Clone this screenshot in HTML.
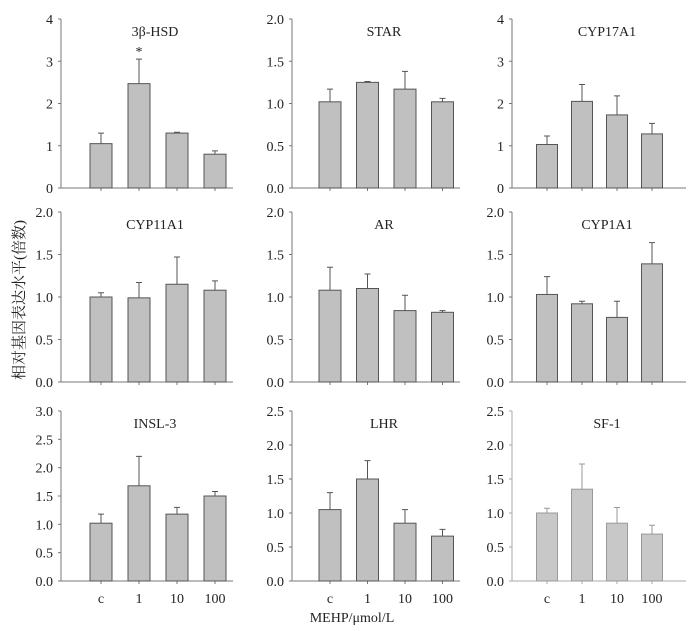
<!DOCTYPE html>
<html><head><meta charset="utf-8"><style>
body{margin:0;background:#fff}
svg{display:block;font-family:"Liberation Serif","Noto Serif CJK SC",serif}
svg text{font-family:"Liberation Serif","Noto Serif CJK SC",serif}
</style></head><body>
<svg id="c" width="700" height="631" viewBox="0 0 700 631">
<text x="24" y="300" transform="rotate(-90 24 300)" text-anchor="middle" font-size="15" fill="#222">相对基因表达水平(倍数)</text>
<text x="352" y="622" text-anchor="middle" font-size="14" fill="#222">MEHP/μmol/L</text>
</svg>
<script>
const categories=["c","1","10","100"];
const genes=["3β-HSD","STAR","CYP17A1","CYP11A1","AR","CYP1A1","INSL-3","LHR","SF-1"];
const means=[[1.05,2.47,1.3,0.8],[1.02,1.25,1.17,1.02],[1.03,2.05,1.73,1.28],[1.0,0.99,1.15,1.08],[1.08,1.1,0.84,0.82],[1.03,0.92,0.76,1.39],[1.02,1.68,1.18,1.5],[1.05,1.5,0.85,0.66],[1.0,1.35,0.85,0.69]];
const errs=[[0.25,0.58,0.02,0.08],[0.15,0.01,0.21,0.04],[0.2,0.4,0.45,0.25],[0.05,0.18,0.32,0.11],[0.27,0.17,0.18,0.02],[0.21,0.03,0.19,0.25],[0.16,0.52,0.12,0.08],[0.25,0.27,0.2,0.1],[0.07,0.37,0.23,0.13]];
const yMax=[4,2,4,2,2,2,3,2.5,2.5];
const yStep=[1,0.5,1,0.5,0.5,0.5,0.5,0.5,0.5];
const decimals=[0,1,0,1,1,1,1,1,1];
const stars=[[false,true,false,false],[],[],[],[],[],[],[],[]];
const cols=[{ax:61,c0:101,dx:38,end:233,w:22},{ax:292,c0:330,dx:37.5,end:460,w:22},{ax:512,c0:547,dx:35,end:686,w:21}];
const rows=[{top:19,base:188},{top:212,base:382},{top:411,base:581}];
const svg=document.getElementById('c');const NS='http://www.w3.org/2000/svg';
function mk(t,a,p){const e=document.createElementNS(NS,t);for(const k in a)e.setAttribute(k,a[k]);(p||svg).appendChild(e);return e;}
genes.forEach((g,i)=>{
 const C=cols[i%3],R=rows[Math.floor(i/3)];
 const grp=mk('g',{});
 
 
 const light=i===8;
 const y=v=>R.base-(v/yMax[i])*(R.base-R.top);
 const xs=k=>C.c0+k*C.dx;
 const axc=light?'#aaa':'#777';
 const ya=mk('line',{x1:C.ax,y1:R.top,x2:C.ax,y2:R.base,stroke:axc,'stroke-width':1},grp);
 
 
 const xa=mk('line',{x1:C.ax,y1:R.base,x2:C.end,y2:R.base,stroke:axc,'stroke-width':1},grp);
 
 
 for(let v=0;v<=yMax[i]+1e-9;v+=yStep[i]){
  mk('line',{x1:C.ax-3,y1:y(v),x2:C.ax,y2:y(v),stroke:axc},grp);
  const t=mk('text',{x:C.ax-8,y:y(v)+5,'text-anchor':'end','font-size':14,fill:'#222'},grp);
  t.textContent=v.toFixed(decimals[i]);
  
  
 }
 const tt=mk('text',{x:(C.ax+C.end)/2+8,y:R.top+17,'text-anchor':'middle','font-size':14,fill:'#222'},grp);
 tt.textContent=g;
 
 
 categories.forEach((c,k)=>{
  const cx=xs(k),m=means[i][k],e=errs[i][k];
  mk('line',{x1:cx,y1:R.base,x2:cx,y2:R.base+3,stroke:axc},grp);
  const b=mk('rect',{x:cx-C.w/2,y:y(m),width:C.w,height:R.base-y(m),fill:light?'#c8c8c8':'#c0c0c0',stroke:light?'#999':'#555','stroke-width':1},grp);
  
  
  const el=mk('path',{d:`M${cx} ${y(m)}V${y(m+e)}M${cx-3} ${y(m+e)}H${cx+3}`,stroke:light?'#999':'#555',fill:'none'},grp);
  
  
  if(stars[i][k]){const s=mk('text',{x:cx,y:y(m+e)-3,'text-anchor':'middle','font-size':14,fill:'#222'},grp);s.textContent='*';
   
   }
  if(i>=6){const l=mk('text',{x:cx,y:R.base+22,'text-anchor':'middle','font-size':14,fill:'#222'},grp);l.textContent=c;
   
   }
 });
});
</script>
</body></html>
